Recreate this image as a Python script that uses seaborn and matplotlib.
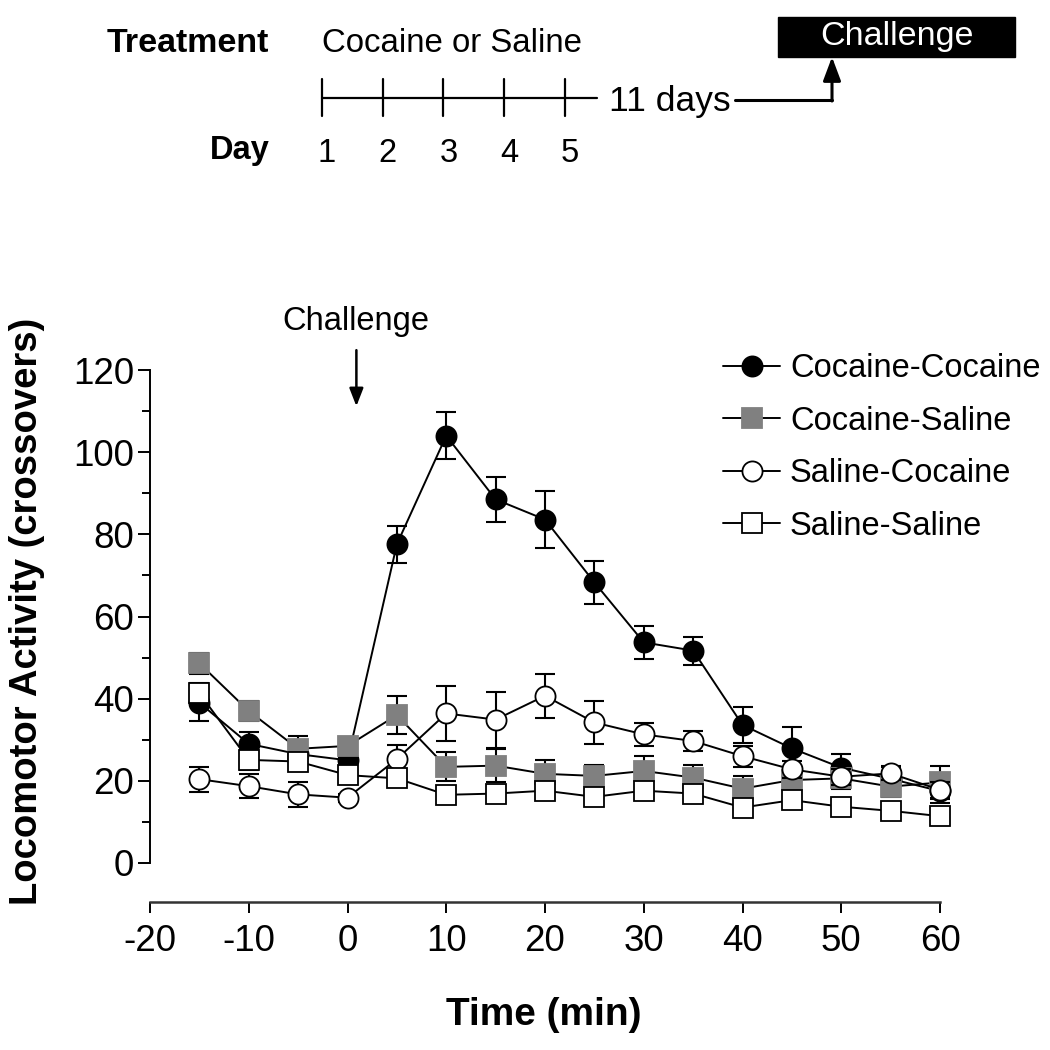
import matplotlib
matplotlib.use("Agg")
import matplotlib.pyplot as plt
import seaborn as sns
import numpy as np
import pandas as pd

sns.set_theme(style="ticks")
plt.rcParams['font.family'] = ['Liberation Sans', 'DejaVu Sans']
plt.rcParams['text.color'] = 'black'
plt.rcParams['axes.labelcolor'] = 'black'
plt.rcParams['xtick.color'] = 'black'
plt.rcParams['ytick.color'] = 'black'

# ---------------- data ----------------
time = [-15, -10, -5, 0, 5, 10, 15, 20, 25, 30, 35, 40, 45, 50, 55, 60]

coc_coc_mean = [39, 29, 26.5, 25, 77.6, 104, 88.5, 83.6, 68.3, 53.7, 51.7, 33.6, 27.9, 23.2, 20.5, 17.5]
coc_coc_sem = [4.5, 3, 2.5, 3, 4.5, 5.7, 5.5, 7, 5.2, 4, 3.4, 4.3, 5.3, 3.3, 3, 3]

coc_sal_mean = [48.6, 37, 27.8, 28.5, 36, 23.4, 23.7, 21.7, 21.2, 22.4, 20.8, 18.1, 20.2, 20.6, 18.6, 19.6]
coc_sal_sem = [2.5, 2.5, 3.2, 2.2, 4.6, 3.5, 4, 3.4, 2.7, 3.6, 3, 3, 2.5, 2.5, 2.5, 4]

sal_coc_mean = [20.4, 18.7, 16.7, 15.9, 25.3, 36.4, 34.9, 40.7, 34.2, 31.3, 29.7, 26, 22.8, 21, 21.8, 17.8]
sal_coc_sem = [3, 3, 3, 1, 3.4, 6.6, 6.8, 5.4, 5.2, 2.7, 2.4, 2.6, 2, 2, 1.5, 2]

sal_sal_mean = [41.3, 25.1, 24.7, 21.4, 20.6, 16.6, 16.9, 17.6, 16.1, 17.6, 16.9, 13.5, 15.3, 13.7, 12.7, 11.4]
sal_sal_sem = [2.6, 2.5, 2, 2, 2, 1.5, 1.5, 1.5, 1.5, 1.5, 1.5, 1.5, 1.5, 1.5, 1.5, 1.5]

groups = ["Cocaine-Cocaine", "Cocaine-Saline", "Saline-Cocaine", "Saline-Saline"]
means = [coc_coc_mean, coc_sal_mean, sal_coc_mean, sal_sal_mean]
sems = [coc_coc_sem, coc_sal_sem, sal_coc_sem, sal_sal_sem]
markers = ["o", "s", "o", "s"]
facecolors = ["black", "#808080", "white", "white"]
edgecolors = ["black", "#808080", "black", "black"]

x_ticks = [-20, -10, 0, 10, 20, 30, 40, 50, 60]
y_ticks = [0, 20, 40, 60, 80, 100, 120]

# schematic
days = [1, 2, 3, 4, 5]

# ---------------- figure ----------------
W = H = 1050
fig = plt.figure(figsize=(10.5, 10.5), dpi=100)

ax = fig.add_axes([150 / W, 1 - 863 / H, (940 - 150) / W, (863 - 370) / H])

handles = []
for g, m, s, mk, fc, ec in zip(groups, means, sems, markers, facecolors, edgecolors):
    df = pd.DataFrame({"time": time, "mean": m, "sem": s})
    ax.errorbar(df["time"], df["mean"], yerr=df["sem"], fmt="none", ecolor="black",
                elinewidth=1.5, capsize=7, capthick=1.5, clip_on=False, zorder=3)
    sns.lineplot(data=df, x="time", y="mean", ax=ax, color="black", linewidth=1.4,
                 marker=mk, markersize=14.5 if mk == "o" else 14,
                 markerfacecolor=fc, markeredgecolor=ec, markeredgewidth=1.3,
                 clip_on=False, zorder=3, legend=False)
    handles.append(ax.lines[-1])

ax.set_xlim(-20, 60)
ax.set_ylim(0, 120)
ax.set_xticks(x_ticks)
ax.set_yticks(y_ticks)
ax.set_yticks([10, 30, 50, 70, 90, 110], minor=True)
ax.set_xticklabels([str(t) for t in x_ticks])
ax.set_yticklabels([str(t) for t in y_ticks])
ax.tick_params(axis="y", which="major", length=8.5, width=1.4, labelsize=26.5, pad=3, color="black")
ax.tick_params(axis="y", which="minor", length=6, width=1.4, color="black")
ax.tick_params(axis="x", which="major", length=8, width=1.4, labelsize=26.5, pad=8, color="black")
for sp in ["top", "right"]:
    ax.spines[sp].set_visible(False)
ax.spines["left"].set_linewidth(1.4)
ax.spines["bottom"].set_linewidth(1.8)
ax.spines["left"].set_color("black")
ax.spines["bottom"].set_color("#333333")
ax.spines["bottom"].set_position(("outward", 28))
ax.set_xlabel("")
ax.set_ylabel("")
ax.patch.set_visible(False)

fig.text(27 / W, 1 - 611 / H, "Locomotor Activity (crossovers)", rotation=90,
         ha="center", va="center", fontsize=27.5, fontweight="bold")
fig.text(544 / W, 1 - 1015 / H, "Time (min)", ha="center", va="center",
         fontsize=28, fontweight="bold")

# challenge arrow
ax.annotate("", xy=(0.9, 110.5), xytext=(0.9, 125.5), annotation_clip=False,
            arrowprops=dict(arrowstyle="-|>,head_length=0.9,head_width=0.35",
                            color="black", lw=1.8))
ax.text(0.8, 131.7, "Challenge", ha="center", va="center", fontsize=23.5, clip_on=False)

leg = fig.legend(handles, groups, loc="upper left", bbox_to_anchor=(723 / W, 1 - 353 / H),
                 frameon=False, fontsize=23.5, handlelength=1.75, handletextpad=0.3,
                 labelspacing=0.66, borderaxespad=0, borderpad=0)

# ---------------- top schematic ----------------
top = fig.add_axes([0, 0, 1, 1])
top.set_xlim(0, W)
top.set_ylim(H, 0)
top.axis("off")
top.patch.set_visible(False)

tick_x0, tick_dx = 322, 60.7
tx = [tick_x0 + (d - 1) * tick_dx for d in days]
top.plot([tx[0], 597], [98, 98], color="black", lw=1.6)
for xv, d in zip(tx, days):
    top.plot([xv, xv], [79, 116], color="black", lw=1.6)
    top.text(xv + 5, 153, str(d), ha="center", va="center", fontsize=23.5)
top.text(188, 43, "Treatment", ha="center", va="center", fontsize=24.5, fontweight="bold")
top.text(240, 151, "Day", ha="center", va="center", fontsize=23.5, fontweight="bold")
top.text(452, 43, "Cocaine or Saline", ha="center", va="center", fontsize=23.8)
top.text(670, 101, "11 days", ha="center", va="center", fontsize=25.5)
top.plot([735, 832], [100, 100], color="black", lw=2.2)
top.annotate("", xy=(832, 57), xytext=(832, 101),
             arrowprops=dict(arrowstyle="-|>,head_length=1.2,head_width=0.45",
                             color="black", lw=2.2, shrinkA=0, shrinkB=0))
top.add_patch(plt.Rectangle((778, 17), 237, 40, facecolor="black", edgecolor="black"))
top.text(897, 37, "Challenge", ha="center", va="center", fontsize=24.5, color="white")

fig.savefig("out.png", dpi=100)
